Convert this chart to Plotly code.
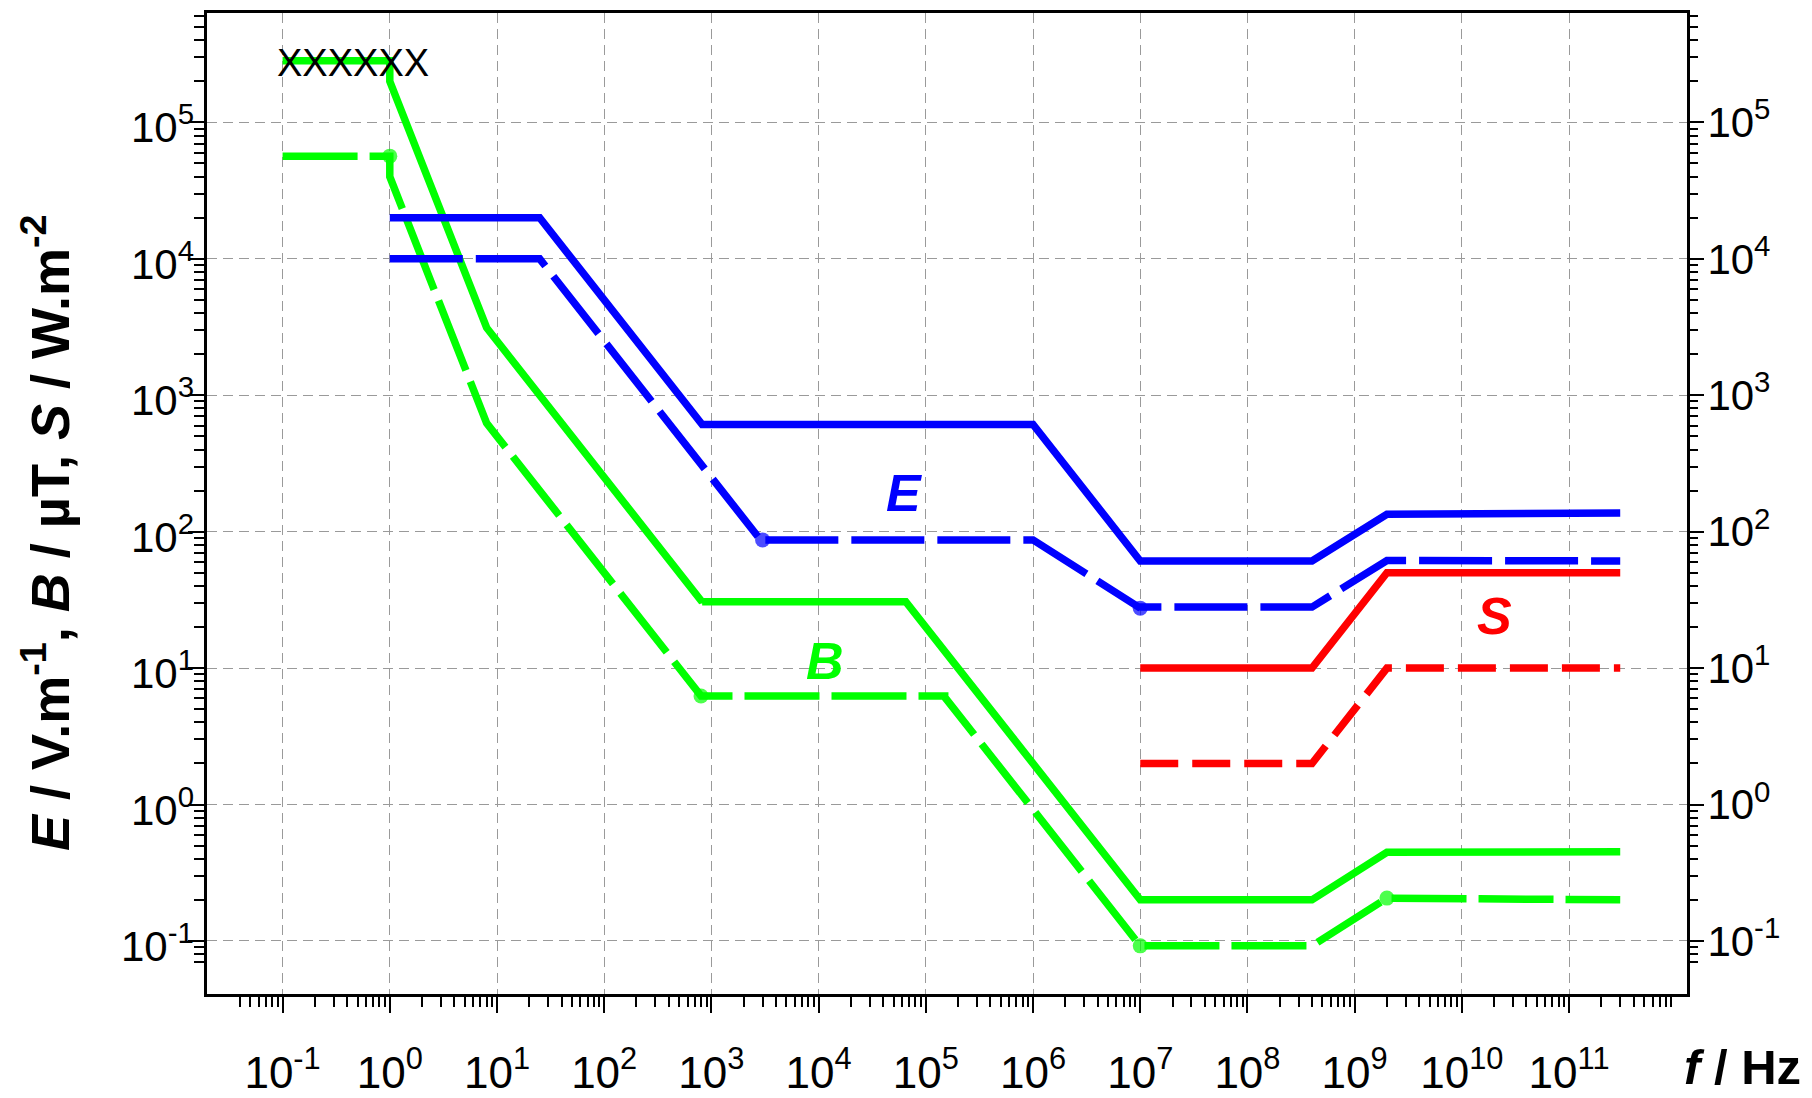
import plotly.graph_objects as go

# ---------------- data ----------------
# Magnetic flux density B / uT
freq_B_occ = [0.1, 1, 1, 8, 25, 820, 820, 65e3, 1e6, 1e7, 4e8, 2e9, 3e11]
B_occ = [2.83e5, 2.83e5, 2e5, 3125, 1000, 30.5, 30.7, 30.7, 2.0, 0.2, 0.2, 0.447, 0.45]

freq_B_pub = [0.1, 1, 1, 8, 25, 800, 1.5e5, 1.5e5, 1e6, 1e7, 4e8, 2e9, 3e11]
B_pub = [5.66e4, 5.66e4, 4e4, 625, 200, 6.25, 6.25, 6.13, 0.92, 0.092, 0.092, 0.206, 0.2]
B_pub_dots = [1, 5, 9, 11]

# Electric field strength E / V.m-1
freq_E_occ = [1, 25, 820, 1e6, 1e7, 4e8, 2e9, 3e11]
E_occ = [2e4, 2e4, 610, 610, 61, 61, 134, 137]

freq_E_pub = [1, 25, 3e3, 3e3, 1e6, 1e7, 1e7, 4e8, 2e9, 3e11]
E_pub = [1e4, 1e4, 83.3, 87, 87, 27.5, 28, 28, 61.5, 61]
E_pub_dots = [3, 5]

# Power density S / W.m-2
freq_S_occ = [1e7, 4e8, 2e9, 3e11]
S_occ = [10, 10, 50, 50]
freq_S_pub = [1e7, 4e8, 2e9, 3e11]
S_pub = [2, 2, 10, 10]

x_exponents = list(range(-1, 12))
y_exponents = list(range(-1, 6))

# ---------------- styling ----------------
BLUE, GREEN, RED = "#0000FF", "#00FF00", "#FF0000"
FONT = "Liberation Sans, Arial, sans-serif"
LW = 7.5


def dot_sizes(n, idx, size=15):
    return [size if i in idx else 0 for i in range(n)]


fig = go.Figure()

def add_line(x, y, color, dash, dots=None):
    if dots:
        fig.add_trace(go.Scatter(
            x=x, y=y, mode="lines+markers",
            line=dict(color=color, width=LW, dash=dash),
            marker=dict(color=color, size=dot_sizes(len(x), dots), line=dict(width=0)),
            hoverinfo="skip", showlegend=False))
    else:
        fig.add_trace(go.Scatter(
            x=x, y=y, mode="lines",
            line=dict(color=color, width=LW, dash=dash),
            hoverinfo="skip", showlegend=False))

add_line(freq_B_occ, B_occ, GREEN, "solid")
add_line(freq_B_pub, B_pub, GREEN, "75px,12px", B_pub_dots)
add_line(freq_E_occ, E_occ, BLUE, "solid")
add_line(freq_E_pub, E_pub, BLUE, "73px,13px", E_pub_dots)
add_line(freq_S_occ, S_occ, RED, "solid")
add_line(freq_S_pub, S_pub, RED, "38px,14px")

# invisible trace to carry the mirrored right-hand y axis
fig.add_trace(go.Scatter(x=freq_S_occ, y=S_occ, yaxis="y2", mode="lines",
                         line=dict(width=0), opacity=0, hoverinfo="skip",
                         showlegend=False))

x_tickvals = [10.0 ** e for e in x_exponents]
x_ticktext = [f"10<sup>{e}</sup>" for e in x_exponents]
y_tickvals = [10.0 ** e for e in y_exponents]
y_ticktext = [f"10<sup>{e}</sup>" for e in y_exponents]
x_minor = [k * 10.0 ** e for e in range(-2, 13) for k in range(2, 10)
           if k * 10.0 ** e >= 0.039]
y_minor = [k * 10.0 ** e for e in range(-2, 7) for k in range(2, 10)
           if k * 10.0 ** e >= 0.069]

XR = [-1.705, 12.1]
YR = [-1.389, 5.802]

grid = dict(showgrid=True, gridcolor="#9a9a9a", gridwidth=1, griddash="10px,6px")

fig.update_layout(
    width=1812, height=1098,
    margin=dict(l=207, r=125, t=13, b=104, autoexpand=False),
    plot_bgcolor="white", paper_bgcolor="white",
    showlegend=False,
    font=dict(family=FONT, color="black"),
    xaxis=dict(type="log", range=XR, tickmode="array", tickvals=x_tickvals,
               ticktext=x_ticktext, ticks="outside", ticklen=16, tickwidth=2,
               tickcolor="black", showline=True, linewidth=3, linecolor="black",
               mirror=True, zeroline=False, ticklabelstandoff=22,
               automargin=False,
               tickfont=dict(size=44, family=FONT, color="black"),
               minor=dict(tickmode="array", tickvals=x_minor, ticks="outside",
                          ticklen=10, tickwidth=1.5, tickcolor="black",
                          showgrid=False),
               **grid),
    yaxis=dict(type="log", range=YR, tickmode="array", tickvals=y_tickvals,
               ticks="outside", ticklen=16, tickwidth=2, showticklabels=False,
               tickcolor="black", showline=True, linewidth=3, linecolor="black",
               mirror=True, zeroline=False, automargin=False,
               minor=dict(tickmode="array", tickvals=y_minor, ticks="outside",
                          ticklen=10, tickwidth=1.5, tickcolor="black",
                          showgrid=False),
               **grid),
    yaxis2=dict(type="log", range=YR, overlaying="y", side="right", anchor="x",
                tickmode="array", tickvals=y_tickvals, ticktext=y_ticktext,
                ticks="outside", ticklen=16, tickwidth=2, tickcolor="black",
                showline=False, showgrid=False, zeroline=False,
                ticklabelstandoff=-5, automargin=False,
                tickfont=dict(size=42, family=FONT, color="black"),
                minor=dict(tickmode="array", tickvals=y_minor, ticks="outside",
                           ticklen=10, tickwidth=1.5, tickcolor="black",
                           showgrid=False)),
)

ann = []
# left-hand y tick labels, set close to the ticks
for e, txt in zip(y_exponents, y_ticktext):
    ann.append(dict(xref="paper", yref="y", x=0, y=e, text=txt,
                    xanchor="right", yanchor="middle", xshift=-11, yshift=-2,
                    showarrow=False,
                    font=dict(size=42, family=FONT, color="black")))
ann.append(dict(xref="paper", yref="paper", x=-0.1088, y=0.471, textangle=-90,
                text="<b><i>E</i> / V.m<sup>-1</sup>, <i>B</i> / µT, <i>S</i> / W.m<sup>-2</sup></b>",
                showarrow=False, font=dict(size=54, family=FONT, color="black"),
                xanchor="center", yanchor="middle"))
ann.append(dict(xref="paper", yref="paper", x=1.0375, y=-0.074,
                text="<b><i>f</i> / Hz</b>", showarrow=False,
                font=dict(size=49, family=FONT, color="black"),
                xanchor="center", yanchor="middle"))
# curve labels (log-axis annotation coordinates are log10 values)
ann.append(dict(x=4.797, y=2.285, text="<b><i>E</i></b>", showarrow=False,
                font=dict(size=52, family=FONT, color=BLUE)))
ann.append(dict(x=4.06, y=1.05, text="<b><i>B</i></b>", showarrow=False,
                font=dict(size=52, family=FONT, color=GREEN)))
ann.append(dict(x=10.30, y=1.38, text="<b><i>S</i></b>", showarrow=False,
                font=dict(size=52, family=FONT, color=RED)))
ann.append(dict(x=-0.343, y=5.435, text="XXXXXX", showarrow=False,
                font=dict(size=38, family=FONT, color="black")))
fig.update_layout(annotations=ann)

fig.write_html("out.html", config={"displayModeBar": False},
               post_script="document.body.style.margin='0';")
